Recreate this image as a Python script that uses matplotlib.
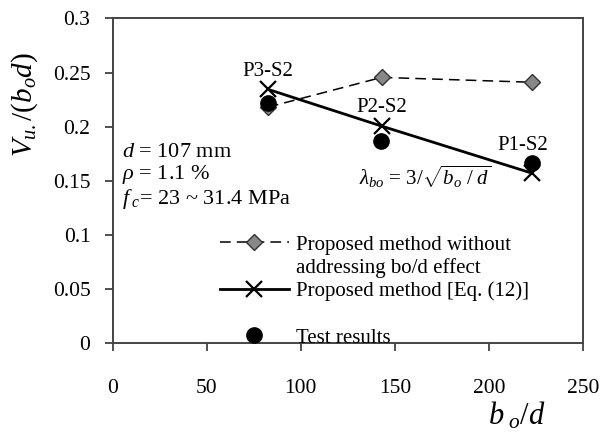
import matplotlib
matplotlib.use('Agg')
import matplotlib.pyplot as plt
from matplotlib.lines import Line2D
from matplotlib.ticker import FuncFormatter
import numpy as np

plt.rcParams['font.family'] = ['Liberation Serif', 'DejaVu Serif']
plt.rcParams['mathtext.fontset'] = 'custom'
plt.rcParams['mathtext.rm'] = 'Liberation Serif'
plt.rcParams['mathtext.it'] = 'Liberation Serif:italic'

# data
bod = [82.5, 143, 223]
v_no_bod = [0.218, 0.2455, 0.241]      # proposed method without bo/d effect
v_eq12 = [0.2345, 0.2005, 0.157]       # proposed method [Eq. (12)]
bod_test = [82.5, 142.5, 223]
v_test = [0.2215, 0.1865, 0.1665]      # test results
specimens = ['P3-S2', 'P2-S2', 'P1-S2']

fig = plt.figure(figsize=(6.05, 4.37), dpi=100)
ax = fig.add_axes([0.1863, 0.2144, 0.9636 - 0.1863, 0.958 - 0.2144])

ax.plot(bod, v_no_bod, ls=(0, (7, 4)), color='black', lw=1.1,
        marker='D', ms=8, mfc='#888888', mec='#333333', mew=1.0)
ax.plot(bod, v_eq12, ls='-', color='black', lw=2.0,
        marker='x', ms=11, mec='black', mew=1.6)
ax.plot(bod_test, v_test, ls='none', marker='o', ms=11, color='black')

ax.text(bod[0], v_eq12[0] + 0.008, specimens[0], ha='center', va='bottom', fontsize=15)
ax.text(bod[1], v_eq12[1] + 0.008, specimens[1], ha='center', va='bottom', fontsize=15)
ax.text(bod[2] - 5, v_test[2] + 0.007, specimens[2], ha='center', va='bottom', fontsize=15)

ax.text(131, 0.154, r'$\lambda_{bo}$ = 3/$\sqrt{b_o\ /\ d}$', ha='left', va='center', fontsize=15)

ax.text(5, 0.1765, r'$d$ = 107 mm', ha='left', va='center', fontsize=16)
ax.text(5, 0.1555, r'$\rho$ = 1.1 %', ha='left', va='center', fontsize=16)
ax.text(5, 0.1335, r'$f_{\ c}$= 23 ~ 31.4 MPa', ha='left', va='center', fontsize=16)

ax.set_xlim(0, 250)
ax.set_ylim(0, 0.3)
ax.set_xticks(np.arange(0, 251, 50))
ax.set_yticks(np.arange(0, 0.301, 0.05))
ax.yaxis.set_major_formatter(FuncFormatter(lambda v, p: '%g' % round(v, 2)))
ax.tick_params(axis='both', direction='out', length=6, width=1.2, colors='#333333',
               labelsize=15.5, labelcolor='black')
ax.tick_params(axis='x', pad=20)
ax.tick_params(axis='y', pad=10)
for sp in ax.spines.values():
    sp.set_color('#444444')
    sp.set_linewidth(1.4)

ax.set_ylabel(r'$V_{u.}/(b_o d)$', fontsize=21)
ax.yaxis.set_label_coords(-0.155, 0.735)
ax.set_xlabel(r'$b_{\ o}/d$', fontsize=22)
ax.xaxis.set_label_coords(0.86, -0.175)

handles = [
    Line2D([], [], ls=(0, (7, 4)), color='black', lw=1.1, marker='D', ms=8,
           mfc='#888888', mec='#333333'),
    Line2D([], [], ls='none'),
    Line2D([], [], ls='-', color='black', lw=2.0, marker='x', ms=11, mew=1.6),
    Line2D([], [], ls='none'),
    Line2D([], [], ls='none', marker='o', ms=11, color='black'),
]
labels = ['Proposed method without', 'addressing bo/d effect',
          'Proposed method [Eq. (12)]', '', 'Test results']
fig.legend(handles, labels, loc='upper left', bbox_to_anchor=(220 / 605, 1 - 235 / 437),
           frameon=False, fontsize=15, handlelength=3.3, handletextpad=0.35,
           labelspacing=0.17, borderpad=0, borderaxespad=0)

fig.savefig('out.png', dpi=100)
